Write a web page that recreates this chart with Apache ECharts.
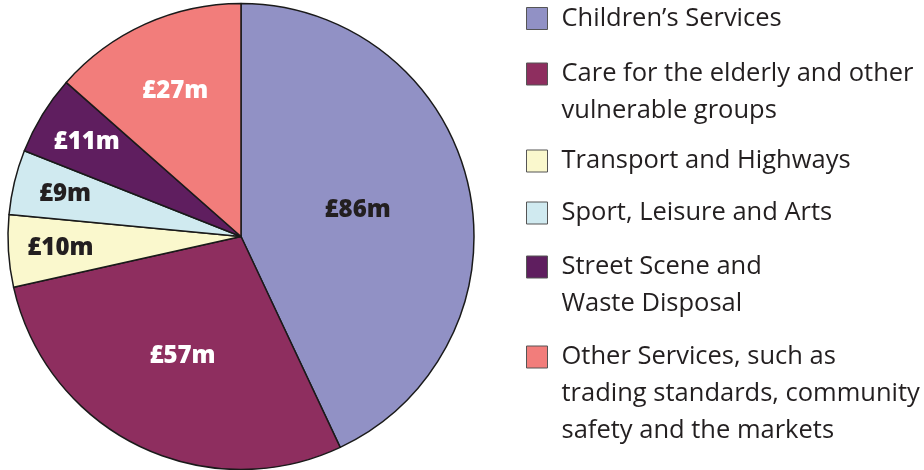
<!DOCTYPE html>
<html>
<head>
<meta charset="utf-8">
<script src="https://cdn.jsdelivr.net/npm/echarts@6/dist/echarts.min.js"></script>
<style>
  html, body { margin: 0; padding: 0; background: #fff; }
  #chart { width: 924px; height: 470px; }
</style>
</head>
<body>
<div id="chart"></div>
<script>
// spend by service area, £m
const categories = [
  "Children’s Services",
  "Care for the elderly and other\nvulnerable groups",
  "Transport and Highways",
  "Sport, Leisure and Arts",
  "Street Scene and\nWaste Disposal",
  "Other Services, such as\ntrading standards, community\nsafety and the markets"
];
const spend = [86, 57, 10, 9, 11, 27];

const colors = ["#9191c5", "#8e2e5f", "#faf8cd", "#d0eaf0", "#5f1e5f", "#f27d7b"];
const labelColors = ["#231f20", "#ffffff", "#231f20", "#231f20", "#ffffff", "#ffffff"];

const FONT = "Open Sans";
const CENTER = [241, 236.5];
const R = 233;
const LH = 37; // legend line height
const legendRowY = [18.5, 74, 161, 213, 267, 357]; // centre of each legend's first line

// smaller slices get their labels pushed further out, like the original
function labelRing(v) {
  if (v >= 80) return 0;
  if (v >= 50) return 1;
  if (v >= 20) return 2;
  return 3;
}
const ringInner = [0, 27, 81, 123];

function pieSeries(ring) {
  const overlay = ring > 0;
  return {
    type: "pie",
    center: CENTER,
    radius: [ringInner[ring], R],
    startAngle: 90,
    clockwise: true,
    silent: overlay,
    animation: false,
    emphasis: { disabled: true },
    itemStyle: overlay
      ? { color: "rgba(0,0,0,0)", borderWidth: 0 }
      : { borderColor: "#1a1a1a", borderWidth: 1.5 },
    label: {
      position: "inside",
      formatter: p => "£" + p.value + "m",
      fontFamily: FONT,
      fontWeight: 800,
      fontSize: 24
    },
    labelLine: { show: false },
    data: categories.map((name, i) => ({
      name: name,
      value: spend[i],
      itemStyle: overlay ? {} : { color: colors[i] },
      label: { show: labelRing(spend[i]) === ring, color: labelColors[i] }
    }))
  };
}

const legends = categories.map((name, i) => {
  const lines = name.split("\n").length;
  const h = (2 * lines - 1) * LH;
  return {
    orient: "vertical",
    left: 526,
    top: legendRowY[i] - h / 2,
    padding: 0,
    data: [name],
    icon: "rect",
    itemWidth: 21,
    itemHeight: 22,
    selectedMode: false,
    itemStyle: { borderColor: "#555", borderWidth: 1 },
    // pad with empty lines above so the first line sits beside the swatch
    formatter: n => "\n".repeat(lines - 1) + n,
    textStyle: {
      fontFamily: FONT,
      fontSize: 25.5,
      color: "#231f20",
      lineHeight: LH,
      padding: [0, 0, 0, 9]
    }
  };
});

const myChart = echarts.init(document.getElementById("chart"));
myChart.setOption({
  backgroundColor: "#fff",
  animation: false,
  legend: legends,
  series: [0, 1, 2, 3].map(pieSeries)
});
</script>
</body>
</html>
